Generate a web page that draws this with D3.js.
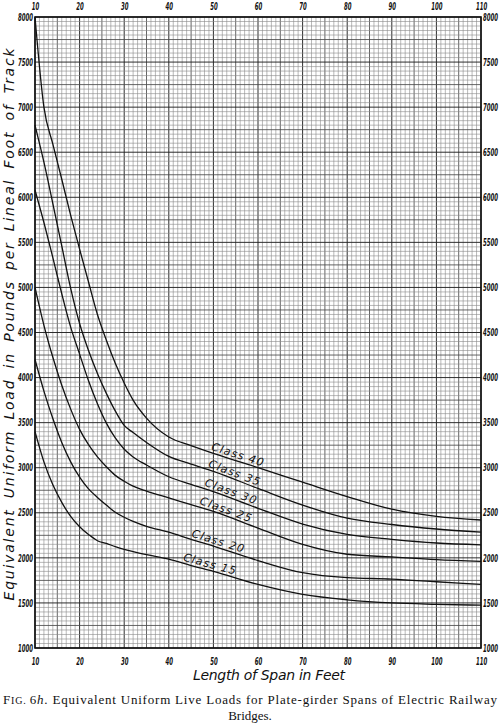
<!DOCTYPE html>
<html>
<head>
<meta charset="utf-8">
<script src="https://cdn.jsdelivr.net/npm/d3@7"></script>
<style>
  body { margin: 0; background: #fff; }
  svg { display: block; }
</style>
</head>
<body>
<div id="chart"></div>
<script>
// span in feet, load in lb per lineal foot of track
const spans = [10, 12, 14, 16, 18, 20, 22, 24, 26, 28, 30, 32, 35, 40, 45, 50, 60, 70, 80, 90, 100, 110];
const class40 = [8000, 7000, 6590, 6200, 5800, 5425, 5060, 4700, 4415, 4160, 3940, 3750, 3550, 3340, 3245, 3160, 3000, 2840, 2680, 2540, 2460, 2420];
const class35 = [6800, 6390, 5930, 5460, 4990, 4600, 4300, 4045, 3825, 3630, 3470, 3390, 3280, 3125, 3040, 2960, 2770, 2585, 2440, 2370, 2320, 2285];
const class30 = [6080, 5720, 5330, 4930, 4560, 4260, 3965, 3710, 3495, 3330, 3205, 3120, 3030, 2900, 2815, 2735, 2550, 2375, 2260, 2205, 2165, 2145];
const class25 = [5000, 4580, 4225, 3915, 3650, 3425, 3255, 3120, 3010, 2915, 2850, 2795, 2740, 2665, 2590, 2515, 2330, 2150, 2040, 2010, 1980, 1960];
const class20 = [4200, 3850, 3545, 3280, 3065, 2895, 2765, 2670, 2585, 2505, 2450, 2405, 2350, 2285, 2205, 2130, 1970, 1835, 1780, 1765, 1735, 1705];
const class15 = [3400, 3065, 2810, 2615, 2460, 2345, 2260, 2190, 2160, 2125, 2095, 2070, 2035, 1985, 1915, 1850, 1705, 1595, 1535, 1500, 1485, 1475];
const classNames = ["Class 40", "Class 35", "Class 30", "Class 25", "Class 20", "Class 15"];
const xTicks = [10, 20, 30, 40, 50, 60, 70, 80, 90, 100, 110];
const yTicks = [1000, 1500, 2000, 2500, 3000, 3500, 4000, 4500, 5000, 5500, 6000, 6500, 7000, 7500, 8000];

const series = [class40, class35, class30, class25, class20, class15];

const W = 500, H = 724;
const margin = {top: 17, right: 19, bottom: 76, left: 35};
const width = W - margin.left - margin.right;
const height = H - margin.top - margin.bottom;

const svg = d3.select("#chart").append("svg")
    .attr("width", W)
    .attr("height", H);

const g = svg.append("g")
    .attr("transform", `translate(${margin.left},${margin.top})`);

const x = d3.scaleLinear().domain([10, 110]).range([0, width]);
const y = d3.scaleLinear().domain([1000, 8000]).range([height, 0]);

// cross-section paper grid
const gx = d3.range(10, 111, 1);
const gy = d3.range(1000, 8001, 50);
function xStyle(v) { return v % 10 === 0 ? ["#222", 0.95] : v % 5 === 0 ? ["#4a4a4a", 0.85] : ["#8a8a8a", 0.6]; }
function yStyle(v) { return v % 500 === 0 ? ["#222", 0.95] : v % 250 === 0 ? ["#4a4a4a", 0.85] : ["#8a8a8a", 0.6]; }

g.append("g").selectAll("line")
  .data(gx.filter(d => d % 5 !== 0).concat(gx.filter(d => d % 5 === 0)))
  .join("line")
    .attr("x1", d => x(d)).attr("x2", d => x(d))
    .attr("y1", 0).attr("y2", height)
    .attr("stroke", d => xStyle(d)[0])
    .attr("stroke-width", d => xStyle(d)[1]);

g.append("g").selectAll("line")
  .data(gy.filter(d => d % 250 !== 0).concat(gy.filter(d => d % 250 === 0)))
  .join("line")
    .attr("y1", d => y(d)).attr("y2", d => y(d))
    .attr("x1", 0).attr("x2", width)
    .attr("stroke", d => yStyle(d)[0])
    .attr("stroke-width", d => yStyle(d)[1]);

g.append("rect")
    .attr("width", width).attr("height", height)
    .attr("fill", "none").attr("stroke", "#111").attr("stroke-width", 1.6);

// tick labels on all four sides, squeezed to look like the narrow hand-lettered digits
function styleTicks(sel) {
  sel.select(".domain").remove();
  sel.selectAll(".tick line").remove();
  sel.selectAll(".tick text").each(function() {
    const t = d3.select(this);
    const tx = +t.attr("x") || 0;
    t.attr("x", 0)
      .attr("transform", `translate(${tx},0) scale(0.54,1)`)
      .attr("font-family", "'DejaVu Sans', sans-serif")
      .attr("font-style", "italic")
      .attr("font-weight", "bold")
      .attr("font-size", 10)
      .attr("fill", "#111");
  });
}

g.append("g")
    .call(d3.axisTop(x).tickValues(xTicks).tickSize(0).tickPadding(7).tickFormat(d3.format("d")))
    .call(styleTicks);
g.append("g")
    .attr("transform", `translate(0,${height})`)
    .call(d3.axisBottom(x).tickValues(xTicks).tickSize(0).tickPadding(10).tickFormat(d3.format("d")))
    .call(styleTicks);
g.append("g")
    .call(d3.axisLeft(y).tickValues(yTicks).tickSize(0).tickPadding(2).tickFormat(d3.format("d")))
    .call(styleTicks);
g.append("g")
    .attr("transform", `translate(${width},0)`)
    .call(d3.axisRight(y).tickValues(yTicks).tickSize(0).tickPadding(2).tickFormat(d3.format("d")))
    .call(styleTicks);

// curves
const line = d3.line()
    .x(d => x(d[0]))
    .y(d => y(d[1]))
    .curve(d3.curveMonotoneX);

g.append("g").selectAll("path")
  .data(series)
  .join("path")
    .attr("d", s => line(spans.map((v, i) => [v, s[i]])))
    .attr("fill", "none")
    .attr("stroke", "#111")
    .attr("stroke-width", 1.3);

// class labels lying along each curve
const labelSpan = [55, 54.2, 53.4, 52.3, 50.6, 48.8];
series.forEach((s, i) => {
  const f = d3.scaleLinear().domain(spans).range(s);
  const xs = labelSpan[i];
  const px = x(xs), py = y(f(xs));
  const dx = x(xs + 4) - x(xs - 4), dy = y(f(xs + 4)) - y(f(xs - 4));
  const ang = Math.atan2(dy, dx) * 180 / Math.PI;
  g.append("text")
    .attr("transform", `translate(${px},${py}) rotate(${ang}) translate(0,-2.5)`)
    .attr("text-anchor", "middle")
    .attr("font-family", "'DejaVu Sans', sans-serif")
    .attr("font-style", "italic")
    .attr("font-size", 11)
    .attr("textLength", 54)
    .attr("lengthAdjust", "spacing")
    .attr("fill", "#111")
    .text(classNames[i]);
});

// axis titles
svg.append("text")
    .attr("transform", `translate(14,${margin.top + height / 2 - 8}) rotate(-90)`)
    .attr("text-anchor", "middle")
    .attr("font-family", "'DejaVu Sans', sans-serif")
    .attr("font-style", "italic")
    .attr("font-size", 14)
    .attr("word-spacing", 4)
    .attr("textLength", 552)
    .attr("lengthAdjust", "spacing")
    .attr("fill", "#111")
    .text("Equivalent Uniform Load in Pounds per Lineal Foot of Track");

svg.append("text")
    .attr("x", 269).attr("y", 680)
    .attr("text-anchor", "middle")
    .attr("font-family", "'DejaVu Sans', sans-serif")
    .attr("font-style", "italic")
    .attr("font-size", 14)
    .attr("textLength", 152)
    .attr("lengthAdjust", "spacing")
    .attr("fill", "#111")
    .text("Length of Span in Feet");

// caption
const cap = svg.append("text")
    .attr("x", 3).attr("y", 704)
    .attr("font-family", "'Liberation Serif', 'DejaVu Serif', serif")
    .attr("font-size", 13)
    .attr("textLength", 494)
    .attr("lengthAdjust", "spacing")
    .attr("fill", "#111");
cap.append("tspan").text("F");
cap.append("tspan").attr("font-size", 10).text("IG. ");
cap.append("tspan").text("6");
cap.append("tspan").attr("font-style", "italic").text("h");
cap.append("tspan").text(".   Equivalent Uniform Live Loads for Plate-girder Spans of Electric Railway");

svg.append("text")
    .attr("x", 250).attr("y", 720)
    .attr("text-anchor", "middle")
    .attr("font-family", "'Liberation Serif', 'DejaVu Serif', serif")
    .attr("font-size", 13)
    .attr("fill", "#111")
    .text("Bridges.");
</script>
</body>
</html>
